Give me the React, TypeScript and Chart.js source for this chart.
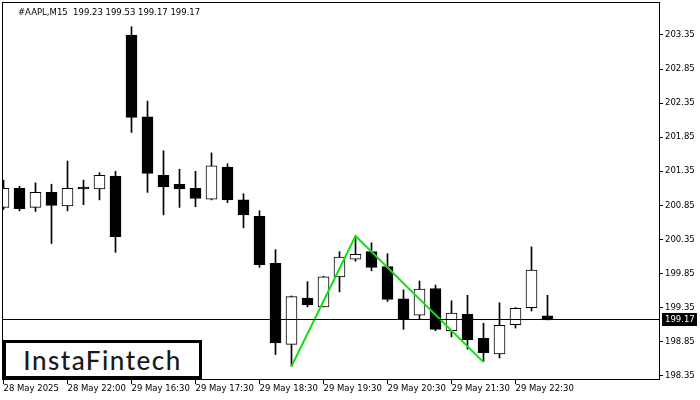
import React, { useEffect, useRef } from "react";
import { Chart, registerables } from "chart.js";

Chart.register(...registerables);

const symbolText = "#AAPL,M15";
const opens = [200.82, 201.1, 200.82, 201.04, 200.84, 201.12, 201.09, 201.28, 203.35, 202.15, 201.29, 201.16, 201.1, 200.94, 201.41, 200.93, 200.69, 200.0, 198.81, 199.49, 199.36, 199.8, 200.06, 200.17, 199.95, 199.48, 199.24, 199.63, 199.01, 199.25, 198.9, 198.67, 199.1, 199.35, 199.23];
const highs = [201.22, 201.13, 201.18, 201.16, 201.5, 201.22, 201.33, 201.35, 203.47, 202.38, 201.65, 201.38, 201.35, 201.62, 201.46, 201.02, 200.77, 200.2, 199.52, 199.73, 199.81, 200.17, 200.4, 200.3, 200.14, 199.61, 199.74, 199.68, 199.45, 199.53, 199.12, 199.42, 199.35, 200.24, 199.53];
const lows = [200.79, 200.77, 200.76, 200.29, 200.77, 200.86, 200.93, 200.16, 201.92, 201.04, 200.71, 200.82, 200.83, 200.93, 200.89, 200.52, 199.94, 198.66, 198.49, 199.36, 199.36, 199.58, 200.03, 199.89, 199.44, 199.03, 199.18, 199.01, 198.92, 198.74, 198.56, 198.61, 199.05, 199.3, 199.17];
const closes = [201.1, 200.8, 201.04, 200.85, 201.1, 201.09, 201.29, 200.39, 202.14, 201.32, 201.12, 201.09, 200.95, 201.43, 200.93, 200.71, 199.98, 198.83, 199.51, 199.39, 199.8, 200.09, 200.13, 199.94, 199.47, 199.18, 199.62, 199.03, 199.27, 198.88, 198.69, 199.09, 199.34, 199.9, 199.17];

const xTickIndices = [0, 4, 8, 12, 16, 20, 24, 28, 32];
const xTickLabels = ["28 May 2025", "28 May 22:00", "29 May 16:30", "29 May 17:30", "29 May 18:30", "29 May 19:30", "29 May 20:30", "29 May 21:30", "29 May 22:30"];
const yTicks = [198.35, 198.85, 199.35, 199.85, 200.35, 200.85, 201.35, 201.85, 202.35, 202.85, 203.35];

const patternIdx = [18, 22, 30];
const patternPrices = [198.49, 200.4, 198.55];

const X_MIN = -0.09375;
const X_MAX = 40.96875;
const Y_MIN = 198.302;
const Y_MAX = 203.834;

const AXIS_FONT = { family: "'DejaVu Sans', sans-serif", size: 8.5 };

export default function App() {
  const canvasRef = useRef<HTMLCanvasElement | null>(null);

  useEffect(() => {
    const canvas = canvasRef.current;
    if (!canvas) return;

    const last = closes.length - 1;
    const headerText = `${symbolText}  ${opens[last].toFixed(2)} ${highs[last].toFixed(2)} ${lows[last].toFixed(2)} ${closes[last].toFixed(2)}`;

    const overlay = {
      id: "overlay",
      afterDatasetsDraw(chart: any) {
        const { ctx, chartArea, scales } = chart;
        const y = Math.round(scales.y.getPixelForValue(closes[last])) - 0.5;
        ctx.save();
        ctx.strokeStyle = "#000";
        ctx.lineWidth = 1;
        ctx.beginPath();
        ctx.moveTo(chartArea.left, y);
        ctx.lineTo(chartArea.right, y);
        ctx.stroke();
        ctx.restore();
      },
      afterDraw(chart: any) {
        const { ctx, chartArea, scales } = chart;
        ctx.save();
        ctx.strokeStyle = "#000";
        ctx.lineWidth = 1;
        ctx.strokeRect(chartArea.left + 0.5, chartArea.top + 0.5, chartArea.right - chartArea.left, chartArea.bottom - chartArea.top);
        // price label
        const py = Math.round(scales.y.getPixelForValue(closes[last])) - 1;
        ctx.fillStyle = "#000";
        ctx.fillRect(chartArea.right + 3, py - 6, 35, 13);
        ctx.fillStyle = "#fff";
        ctx.font = `${AXIS_FONT.size}px ${AXIS_FONT.family}`;
        ctx.textBaseline = "middle";
        ctx.textAlign = "left";
        ctx.fillText(closes[last].toFixed(2), chartArea.right + 6, py + 0.5);
        // header
        ctx.fillStyle = "#000";
        ctx.fillText(headerText, 18, 13);
        ctx.restore();
      },
    };

    const chart = new Chart(canvas, {
      type: "bar",
      data: {
        datasets: [
          {
            type: "line",
            data: patternIdx.map((x, i) => ({ x, y: patternPrices[i] })),
            borderColor: "#11e011",
            borderWidth: 2,
            pointRadius: 0,
            fill: false,
            order: 0,
          } as any,
          {
            data: opens.map((o, i) => ({ x: i, y: [Math.min(o, closes[i]), Math.max(o, closes[i])] })),
            backgroundColor: opens.map((o, i) => (closes[i] >= o ? "#ffffff" : "#000000")),
            borderColor: "#000",
            borderWidth: 1,
            borderSkipped: false,
            barThickness: 11,
            grouped: false,
            order: 1,
          },
          {
            data: lows.map((l, i) => ({ x: i, y: [l, highs[i]] })),
            backgroundColor: "#000",
            borderWidth: 0,
            barThickness: 1,
            grouped: false,
            order: 2,
          },
        ],
      },
      options: {
        responsive: false,
        animation: false,
        events: [],
        layout: { padding: { left: 2, top: 2, right: 0, bottom: 0 } },
        plugins: { legend: { display: false }, tooltip: { enabled: false }, title: { display: false } },
        scales: {
          x: {
            type: "linear",
            min: X_MIN,
            max: X_MAX,
            offset: false,
            afterBuildTicks: (s: any) => {
              s.ticks = xTickIndices.map((v) => ({ value: v }));
            },
            afterFit: (s: any) => {
              s.height = 21;
              s.paddingLeft = 0;
              s.paddingRight = 0;
            },
            ticks: {
              autoSkip: false,
              maxRotation: 0,
              minRotation: 0,
              align: "start",
              padding: 0,
              color: "#000",
              font: AXIS_FONT,
              callback: (_v: any, i: number) => xTickLabels[i],
            },
            grid: { drawOnChartArea: false, offset: false, tickLength: 5, color: "#000", tickColor: "#000" },
            border: { display: true, color: "#000" },
          },
          y: {
            type: "linear",
            position: "right",
            min: Y_MIN,
            max: Y_MAX,
            afterBuildTicks: (s: any) => {
              s.ticks = yTicks.map((v) => ({ value: v }));
            },
            afterFit: (s: any) => {
              s.width = 41;
              s.paddingTop = 0;
              s.paddingBottom = 0;
            },
            ticks: {
              padding: 2,
              color: "#000",
              font: AXIS_FONT,
              callback: (v: any) => Number(v).toFixed(2),
            },
            grid: { drawOnChartArea: false, tickLength: 4, color: "#000", tickColor: "#000" },
            border: { display: true, color: "#000" },
          },
        },
      } as any,
      plugins: [overlay],
    });

    return () => chart.destroy();
  }, []);

  return (
    <div style={{ position: "absolute", left: 0, top: 0, width: 700, height: 400, background: "#fff" }}>
      <canvas ref={canvasRef} width={700} height={400} style={{ display: "block", width: 700, height: 400 }} />
      <div
        style={{
          position: "absolute",
          left: 3,
          top: 340,
          width: 199,
          height: 39,
          boxSizing: "border-box",
          border: "3px solid #000",
          background: "#fff",
          display: "flex",
          alignItems: "center",
          justifyContent: "center",
          fontFamily: "Lato, 'Open Sans', sans-serif",
          fontWeight: 500,
          fontSize: 26,
          color: "#1a1a1a",
          letterSpacing: 1.5,
          lineHeight: 1,
        }}
      >
        InstaFintech
      </div>
    </div>
  );
}
